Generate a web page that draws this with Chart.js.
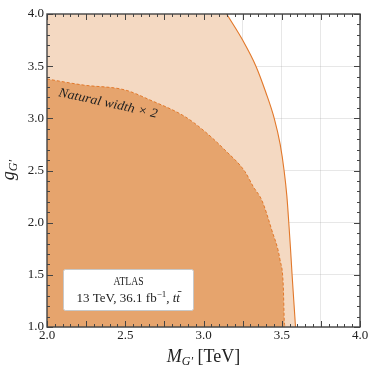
<!DOCTYPE html>
<html>
<head>
<meta charset="utf-8">
<script src="https://cdn.jsdelivr.net/npm/chart.js@4"></script>
<style>
html,body{margin:0;padding:0;background:#fff;}
#wrap{width:370px;height:374px;}
</style>
</head>
<body>
<div id="wrap"><canvas id="c" width="370" height="374"></canvas></div>
<script>
// Observed limit (solid line) boundary: M_G' [TeV] vs g_G'
const lightM = [3.148, 3.250, 3.335, 3.398, 3.452, 3.490, 3.515, 3.533, 3.545, 3.556, 3.566, 3.577, 3.588];
const lightG = [4.00, 3.75, 3.50, 3.25, 3.00, 2.75, 2.50, 2.25, 2.00, 1.75, 1.50, 1.25, 1.00];
// excluded region left of the observed curve, up to the top edge
const topM = [2.0, 3.148, 3.250];
const topG = [4.0, 4.00, 3.75];
// Natural width x 2 (dashed) boundary
const darkM = [2.0, 2.232, 2.498, 2.658, 2.882, 3.010, 3.137, 3.265, 3.318, 3.372, 3.436, 3.489, 3.510, 3.516, 3.521];
const darkG = [3.377, 3.319, 3.272, 3.176, 3.016, 2.872, 2.696, 2.489, 2.345, 2.217, 1.93, 1.642, 1.383, 1.064, 1.0];
const xTickLabels = ['2.0', '2.5', '3.0', '3.5', '4.0'];
const yTickLabels = ['1.0', '1.5', '2.0', '2.5', '3.0', '3.5', '4.0'];

const SERIF = '"Liberation Serif", "DejaVu Serif", serif';
const LINE = '#E2782A';
const DARK = '#E6A46D';
const LIGHT = '#F4D9C2';

const toPts = (xs, ys) => xs.map((x, i) => ({x: x, y: ys[i]}));

const decor = {
  id: 'decor',
  afterDraw(chart) {
    const ctx = chart.ctx;
    const a = chart.chartArea;
    const xs = chart.scales.x, ys = chart.scales.y;
    ctx.save();
    // ticks (inward, all sides)
    ctx.strokeStyle = '#444';
    ctx.lineWidth = 1;
    ctx.beginPath();
    for (let i = 0; i <= 40; i++) {
      const v = 2 + i * 0.05;
      const px = Math.round(xs.getPixelForValue(v)) + 0.5;
      const len = (i % 5 === 0) ? 6 : 3;
      ctx.moveTo(px, a.bottom); ctx.lineTo(px, a.bottom - len);
      ctx.moveTo(px, a.top); ctx.lineTo(px, a.top + len);
    }
    for (let i = 0; i <= 30; i++) {
      const v = 1 + i * 0.1;
      const py = Math.round(ys.getPixelForValue(v)) + 0.5;
      const len = (i % 5 === 0) ? 6 : 3;
      ctx.moveTo(a.left, py); ctx.lineTo(a.left + len, py);
      ctx.moveTo(a.right, py); ctx.lineTo(a.right - len, py);
    }
    ctx.stroke();
    // frame
    ctx.strokeStyle = '#444';
    ctx.lineWidth = 1.4;
    ctx.strokeRect(a.left, a.top, a.right - a.left, a.bottom - a.top);

    // annotation along dashed curve
    ctx.fillStyle = '#222';
    ctx.save();
    ctx.translate(58, 96);
    ctx.rotate(12.4 * Math.PI / 180);
    ctx.font = 'italic 13px ' + SERIF;
    const ann = 'Natural width \u00d7 2';
    const aw = ctx.measureText(ann).width;
    ctx.scale(101 / aw, 1);
    ctx.textBaseline = 'alphabetic';
    ctx.fillText(ann, 0, 0);
    ctx.restore();

    // legend box
    const bx = 63, by = 269, bw = 130, bh = 41;
    ctx.fillStyle = '#fff';
    ctx.strokeStyle = '#c8c8c8';
    ctx.lineWidth = 1;
    ctx.beginPath();
    if (ctx.roundRect) ctx.roundRect(bx + 0.5, by + 0.5, bw, bh, 2); else ctx.rect(bx + 0.5, by + 0.5, bw, bh);
    ctx.fill(); ctx.stroke();
    ctx.fillStyle = '#222';
    ctx.textBaseline = 'alphabetic';
    ctx.font = '12px ' + SERIF;
    const t1 = 'ATLAS';
    const w1 = ctx.measureText(t1).width;
    ctx.save();
    ctx.translate(bx + bw / 2 + 0.5, 285);
    ctx.scale(30 / w1, 1);
    ctx.textAlign = 'center';
    ctx.fillText(t1, 0, 0);
    ctx.restore();
    // second line pieces
    const parts = [
      {t: '13 TeV, 36.1 fb', f: '13px ' + SERIF, dy: 0},
      {t: '\u22121', f: '9px ' + SERIF, dy: -5},
      {t: ', ', f: '13px ' + SERIF, dy: 0},
      {t: 't', f: 'italic 13px ' + SERIF, dy: 0},
      {t: 't', f: 'italic 13px ' + SERIF, dy: 0, bar: true}
    ];
    let tot = 0;
    parts.forEach(p => { ctx.font = p.f; p.w = ctx.measureText(p.t).width; tot += p.w + (p.bar ? 0.5 : 0); });
    let cx = bx + bw / 2 + 0.5 - tot / 2;
    const base2 = 302;
    ctx.textAlign = 'left';
    parts.forEach(p => {
      ctx.font = p.f;
      ctx.fillText(p.t, cx, base2 + p.dy);
      if (p.bar) {
        ctx.beginPath();
        ctx.strokeStyle = '#222';
        ctx.lineWidth = 0.8;
        ctx.moveTo(cx + 1.5, base2 - 10.5); ctx.lineTo(cx + p.w + 1.5, base2 - 10.5);
        ctx.stroke();
      }
      cx += p.w + (p.bar ? 0.5 : 0);
    });

    // x title: M_{G'} [TeV]
    const xp = [
      {t: 'M', f: 'italic 18px ' + SERIF, dy: 0},
      {t: 'G\u2032', f: 'italic 12px ' + SERIF, dy: 3},
      {t: ' [TeV]', f: '18px ' + SERIF, dy: 0}
    ];
    let xt = 0;
    xp.forEach(p => { ctx.font = p.f; p.w = ctx.measureText(p.t).width; xt += p.w; });
    let xx = (a.left + a.right) / 2 - xt / 2 + 0;
    xp.forEach(p => { ctx.font = p.f; ctx.fillText(p.t, xx, 362 + p.dy); xx += p.w; });

    // y title: g_{G'}
    ctx.save();
    ctx.translate(14, 0);
    ctx.rotate(-Math.PI / 2);
    const yp = [
      {t: 'g', f: 'italic 18px ' + SERIF, dy: 0},
      {t: 'G\u2032', f: 'italic 12px ' + SERIF, dy: 3}
    ];
    let yt = 0;
    yp.forEach(p => { ctx.font = p.f; p.w = ctx.measureText(p.t).width; yt += p.w; });
    let yy = -170 - yt / 2;
    yp.forEach(p => { ctx.font = p.f; ctx.fillText(p.t, yy, p.dy); yy += p.w; });
    ctx.restore();

    ctx.restore();
  }
};

new Chart(document.getElementById('c'), {
  type: 'scatter',
  data: {
    datasets: [
      {
        label: 'Natural width x 2',
        data: toPts(darkM, darkG),
        showLine: true,
        fill: 'start',
        backgroundColor: DARK,
        borderColor: LINE,
        borderWidth: 1,
        borderDash: [3, 2],
        pointRadius: 0,
        cubicInterpolationMode: 'monotone'
      },
      {
        label: 'Observed',
        data: toPts(lightM, lightG),
        showLine: true,
        fill: 'start',
        backgroundColor: LIGHT,
        borderColor: LINE,
        borderWidth: 1.1,
        pointRadius: 0,
        cubicInterpolationMode: 'monotone'
      },
      {
        label: 'Observed (top)',
        data: toPts(topM, topG),
        showLine: true,
        fill: 'start',
        backgroundColor: LIGHT,
        borderWidth: 0,
        borderColor: 'rgba(0,0,0,0)',
        pointRadius: 0
      }
    ]
  },
  options: {
    responsive: false,
    animation: false,
    devicePixelRatio: 1,
    layout: {padding: {top: 14, right: 10, left: 0, bottom: 0}},
    plugins: {legend: {display: false}, tooltip: {enabled: false}},
    scales: {
      x: {
        type: 'linear', min: 2, max: 4, z: 1,
        afterFit: s => { s.height = 47; },
        afterBuildTicks: s => { s.ticks = []; for (let i = 0; i <= 8; i++) s.ticks.push({value: 2 + i * 0.25}); },
        ticks: {
          autoSkip: false, maxRotation: 0, padding: 1, color: '#222',
          font: {family: SERIF, size: 13},
          callback: v => { const i = xTickLabels.indexOf(Number(v).toFixed(1)); return (Math.abs(v * 2 - Math.round(v * 2)) < 1e-6 && i >= 0) ? xTickLabels[i] : ''; }
        },
        grid: {color: 'rgba(170,170,170,0.28)', drawTicks: false, lineWidth: 1},
        border: {display: false}
      },
      y: {
        type: 'linear', min: 1, max: 4, z: 1,
        afterFit: s => { s.width = 47; },
        afterBuildTicks: s => { s.ticks = []; for (let i = 0; i <= 6; i++) s.ticks.push({value: 1 + i * 0.5}); },
        ticks: {
          autoSkip: false, padding: 3, color: '#222',
          font: {family: SERIF, size: 13},
          callback: v => { const i = yTickLabels.indexOf(Number(v).toFixed(1)); return i >= 0 ? yTickLabels[i] : ''; }
        },
        grid: {color: 'rgba(170,170,170,0.28)', drawTicks: false, lineWidth: 1},
        border: {display: false}
      }
    }
  },
  plugins: [decor]
});
</script>
</body>
</html>
